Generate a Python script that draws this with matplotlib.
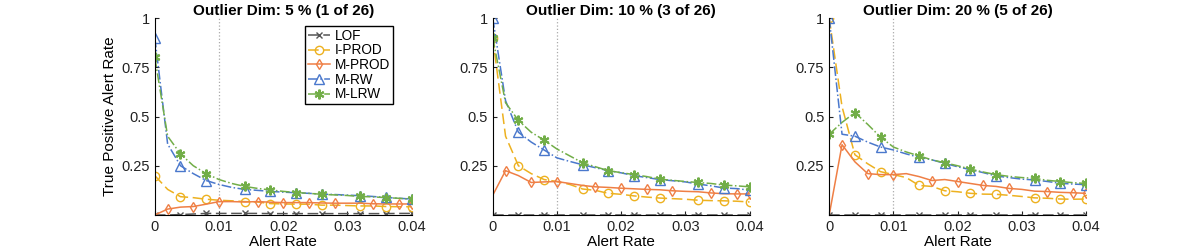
import numpy as np
import matplotlib
matplotlib.use("Agg")
import matplotlib.pyplot as plt

plt.rcParams['font.family'] = ['Liberation Sans', 'DejaVu Sans']

# alert rate grid (step 0.002)
alert_rate = np.arange(21) * 0.002

titles = ["Outlier Dim: 5 % (1 of 26)", "Outlier Dim: 10 % (3 of 26)", "Outlier Dim: 20 % (5 of 26)"]
methods = ["LOF", "I-PROD", "M-PROD", "M-RW", "M-LRW"]

# panel 1 : 5 %
lof_5 = [0, 0, 0.002, 0.005, 0.008, 0.008, 0.008, 0.008, 0.008, 0.007, 0.007, 0.007, 0.007, 0.007, 0.007, 0.007, 0.007, 0.007, 0.007, 0.008, 0.008]
iprod_5 = [0.20, 0.13, 0.093, 0.088, 0.08, 0.075, 0.072, 0.068, 0.066, 0.058, 0.056, 0.055, 0.055, 0.05, 0.05, 0.048, 0.046, 0.046, 0.043, 0.042, 0.042]
mprod_5 = [0, 0.03, 0.04, 0.043, 0.055, 0.068, 0.068, 0.066, 0.068, 0.065, 0.063, 0.063, 0.063, 0.061, 0.06, 0.06, 0.06, 0.057, 0.056, 0.056, 0.056]
mrw_5 = [0.90, 0.36, 0.25, 0.21, 0.175, 0.155, 0.14, 0.13, 0.125, 0.12, 0.116, 0.113, 0.11, 0.106, 0.104, 0.101, 0.098, 0.094, 0.089, 0.085, 0.081]
mlrw_5 = [0.80, 0.40, 0.31, 0.25, 0.21, 0.18, 0.16, 0.145, 0.135, 0.127, 0.12, 0.114, 0.11, 0.105, 0.102, 0.099, 0.094, 0.092, 0.088, 0.085, 0.08]

# panel 2 : 10 %
lof_10 = [0.002] * 21
iprod_10 = [0.90, 0.40, 0.25, 0.21, 0.18, 0.17, 0.155, 0.132, 0.125, 0.11, 0.105, 0.097, 0.091, 0.086, 0.083, 0.08, 0.075, 0.073, 0.072, 0.07, 0.066]
mprod_10 = [0.10, 0.225, 0.20, 0.165, 0.168, 0.17, 0.16, 0.15, 0.143, 0.14, 0.136, 0.133, 0.13, 0.128, 0.123, 0.12, 0.118, 0.112, 0.108, 0.107, 0.107]
mrw_10 = [1.0, 0.58, 0.42, 0.37, 0.33, 0.29, 0.272, 0.255, 0.24, 0.225, 0.214, 0.20, 0.19, 0.18, 0.174, 0.168, 0.157, 0.148, 0.137, 0.134, 0.126]
mlrw_10 = [0.90, 0.57, 0.48, 0.42, 0.38, 0.335, 0.30, 0.265, 0.245, 0.225, 0.215, 0.205, 0.195, 0.182, 0.176, 0.17, 0.165, 0.16, 0.152, 0.148, 0.143]

# panel 3 : 20 %
lof_20 = [0.002] * 21
iprod_20 = [1.0, 0.55, 0.306, 0.26, 0.22, 0.205, 0.19, 0.15, 0.145, 0.123, 0.118, 0.11, 0.106, 0.105, 0.1, 0.094, 0.087, 0.085, 0.081, 0.08, 0.081]
mprod_20 = [0, 0.357, 0.27, 0.21, 0.205, 0.205, 0.21, 0.195, 0.175, 0.18, 0.17, 0.16, 0.15, 0.145, 0.135, 0.13, 0.121, 0.119, 0.115, 0.113, 0.11]
mrw_20 = [1.0, 0.41, 0.40, 0.37, 0.345, 0.33, 0.31, 0.293, 0.28, 0.262, 0.245, 0.23, 0.215, 0.198, 0.19, 0.182, 0.178, 0.17, 0.161, 0.157, 0.154]
mlrw_20 = [0.41, 0.47, 0.52, 0.46, 0.395, 0.345, 0.32, 0.30, 0.28, 0.265, 0.25, 0.233, 0.218, 0.205, 0.196, 0.19, 0.186, 0.176, 0.17, 0.164, 0.16]

panels = [
    [lof_5, iprod_5, mprod_5, mrw_5, mlrw_5],
    [lof_10, iprod_10, mprod_10, mrw_10, mlrw_10],
    [lof_20, iprod_20, mprod_20, mrw_20, mlrw_20],
]

colors = ["#555555", "#EDB120", "#EF7F45", "#4A78CC", "#72AE48"]
styles = [(0, (7, 3)), (0, (7, 3)), "-", "-.", "-."]
markers = ["x", "o", "d", "^", (6, 2, 0)]
msizes = [4, 6, 5.5, 6.5, 7]
mark_a = [0, 2, 4, 7, 9, 11, 13, 16, 18, 20]
mark_b = [1, 3, 5, 8, 10, 12, 14, 17, 19, 20]
marks = [mark_a, mark_a, mark_b, mark_a, mark_a]

fig = plt.figure(figsize=(12, 2.5), dpi=100)
lefts = [0.129, 0.4106, 0.691]

for p, series in enumerate(panels):
    ax = fig.add_axes([lefts[p], 0.14, 0.214, 0.788])
    ax.axvline(0.01, color="#aaaaaa", linestyle=":", linewidth=0.9, zorder=0)
    for i, vals in enumerate(series):
        hollow = markers[i] in ("o", "d", "^")
        ax.plot(alert_rate, vals, color=colors[i], linestyle=styles[i], linewidth=1.1,
                marker=markers[i], markevery=marks[i], markersize=msizes[i],
                markerfacecolor="none" if hollow else colors[i],
                markeredgewidth=1.0 if i != 4 else 1.5, label=methods[i])
    ax.set_xlim(0, 0.04)
    ax.set_ylim(0, 1)
    ax.set_xticks([0, 0.01, 0.02, 0.03, 0.04])
    ax.set_xticklabels(["0", "0.01", "0.02", "0.03", "0.04"])
    ax.set_yticks([0.25, 0.5, 0.75, 1])
    ax.set_yticklabels(["0.25", "0.5", "0.75", "1"])
    ax.spines["top"].set_visible(False)
    ax.spines["right"].set_visible(False)
    ax.tick_params(direction="in", length=3, labelsize=10.5, colors="#222222")
    ax.set_title(titles[p], fontsize=11, fontweight="bold", pad=2)
    ax.set_xlabel("Alert Rate", fontsize=11, labelpad=1)
    if p == 0:
        ax.set_ylabel("True Positive Alert Rate", fontsize=11, labelpad=3)
        ax.legend(loc="upper left", bbox_to_anchor=(0.585, 0.96), fontsize=9.8,
                  fancybox=False, edgecolor="black", framealpha=1,
                  handlelength=1.6, borderpad=0.2, labelspacing=0.05, handletextpad=0.4,
                  borderaxespad=0)

fig.savefig("out.png", dpi=100)
